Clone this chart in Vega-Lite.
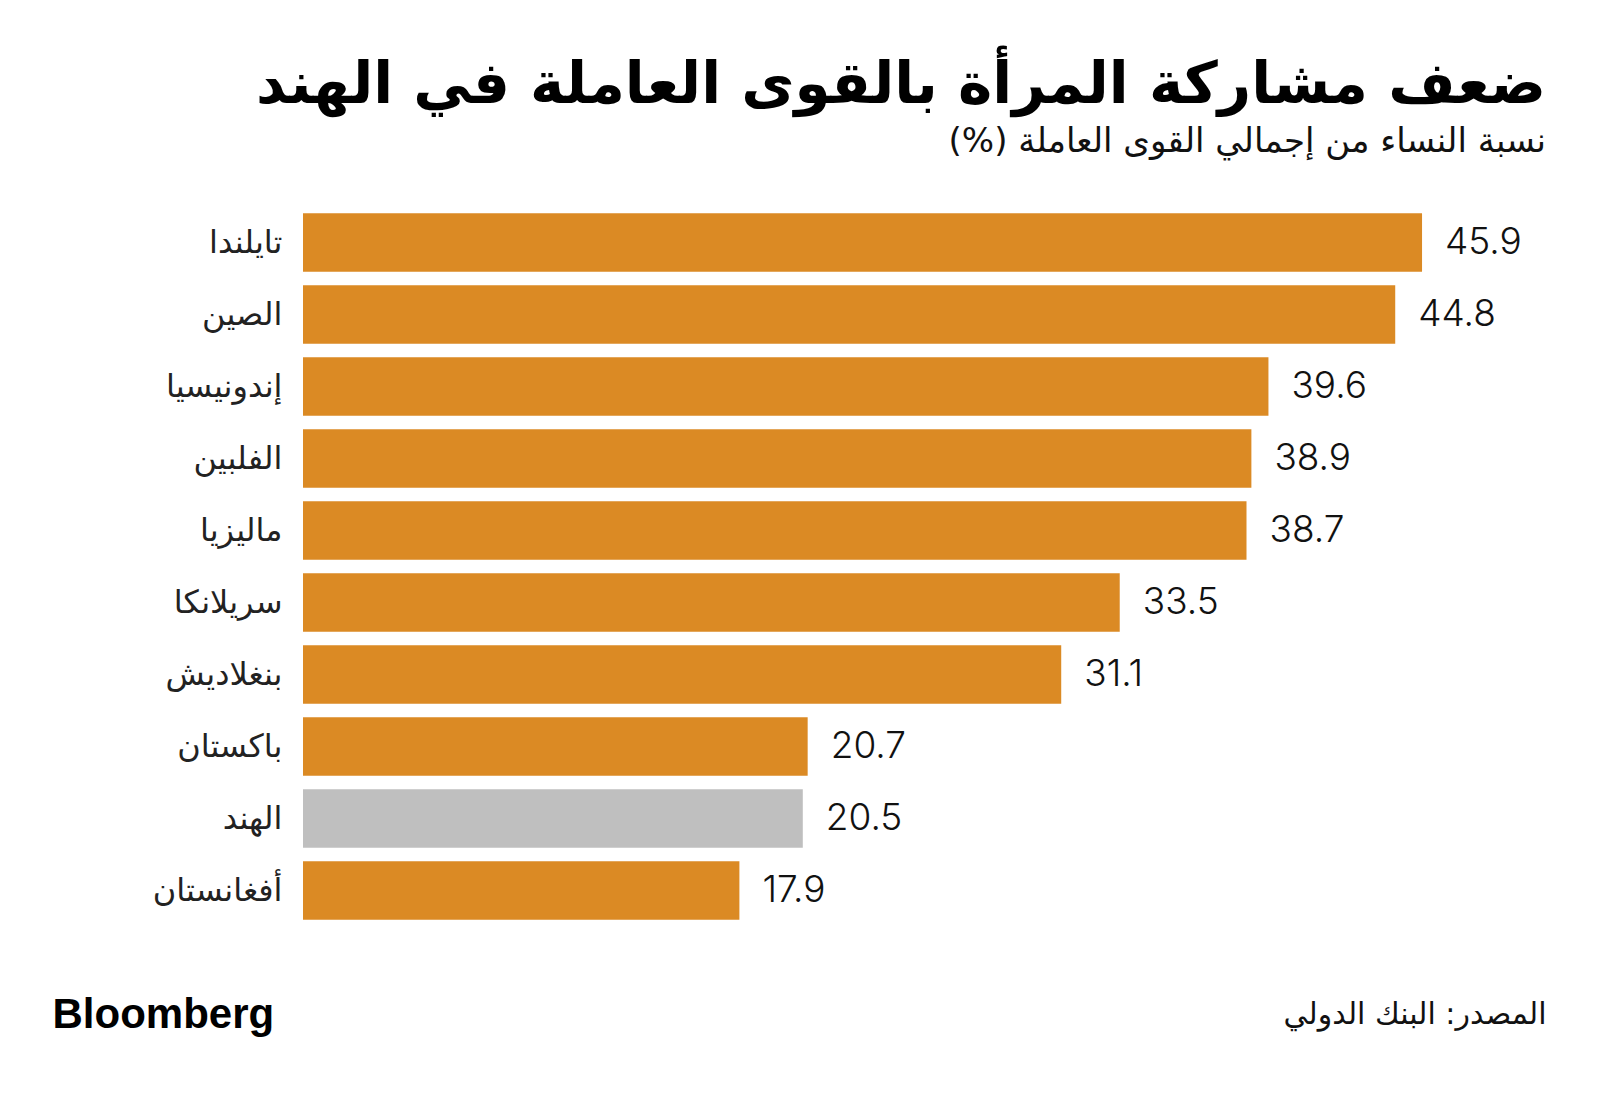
{
  "$schema": "https://vega.github.io/schema/vega-lite/v6.json",
  "width": 1219,
  "height": 720,
  "autosize": {"type": "none"},
  "padding": {"left": 303, "top": 206.5, "right": 78, "bottom": 168.5},
  "background": "white",
  "config": {"view": {"stroke": null}},
  "title": {
    "text": "ضعف مشاركة المرأة بالقوى العاملة في الهند",
    "subtitle": "نسبة النساء من إجمالي القوى العاملة (%)\u200f",
    "anchor": "end",
    "frame": "group",
    "dx": 24,
    "offset": 48,
    "font": "DejaVu Sans",
    "fontSize": 58,
    "fontWeight": "bold",
    "color": "#000000",
    "subtitleFont": "DejaVu Sans",
    "subtitleFontSize": 34,
    "subtitleColor": "#111111",
    "subtitlePadding": 10
  },
  "data": {
    "values": [
      {"country": "تايلندا", "value": 45.9},
      {"country": "الصين", "value": 44.8},
      {"country": "إندونيسيا", "value": 39.6},
      {"country": "الفلبين", "value": 38.9},
      {"country": "ماليزيا", "value": 38.7},
      {"country": "سريلانكا", "value": 33.5},
      {"country": "بنغلاديش", "value": 31.1},
      {"country": "باكستان", "value": 20.7},
      {"country": "الهند", "value": 20.5},
      {"country": "أفغانستان", "value": 17.9}
    ]
  },
  "encoding": {
    "y": {
      "field": "country",
      "type": "nominal",
      "sort": {"field": "value", "order": "descending"},
      "scale": {"paddingInner": 0.19, "paddingOuter": 0.095},
      "axis": {
        "title": "Bloomberg",
        "titleAngle": 0,
        "titleAlign": "left",
        "titleBaseline": "alphabetic",
        "titleX": -251,
        "titleY": 821,
        "titleFont": "Liberation Sans",
        "titleFontSize": 42,
        "titleFontWeight": "bold",
        "titleColor": "#000000",
        "domain": false,
        "ticks": false,
        "grid": false,
        "labelPadding": 21,
        "labelFont": "DejaVu Sans",
        "labelFontSize": 32,
        "labelColor": "#222222"
      }
    },
    "x": {
      "field": "value",
      "type": "quantitative",
      "scale": {"domain": [0, 50], "nice": false},
      "axis": {
        "title": "المصدر: البنك الدولي",
        "titleAnchor": "end",
        "titleAlign": "right",
        "titleBaseline": "alphabetic",
        "titleX": 1243,
        "titleY": 97,
        "titleFont": "DejaVu Sans",
        "titleFontSize": 30,
        "titleFontWeight": "normal",
        "titleColor": "#111111",
        "labels": false,
        "ticks": false,
        "domain": false,
        "grid": false
      }
    }
  },
  "layer": [
    {
      "mark": {"type": "bar"},
      "encoding": {
        "color": {
          "condition": {"test": "datum.country === 'الهند'", "value": "#BFBFBF"},
          "value": "#DB8A24"
        }
      }
    },
    {
      "mark": {"type": "text", "align": "left", "baseline": "middle", "dx": 23, "font": "Inter", "fontSize": 37, "fontWeight": 300, "color": "#111111"},
      "encoding": {
        "text": {"field": "value", "type": "quantitative", "format": ".1f"}
      }
    }
  ]
}
